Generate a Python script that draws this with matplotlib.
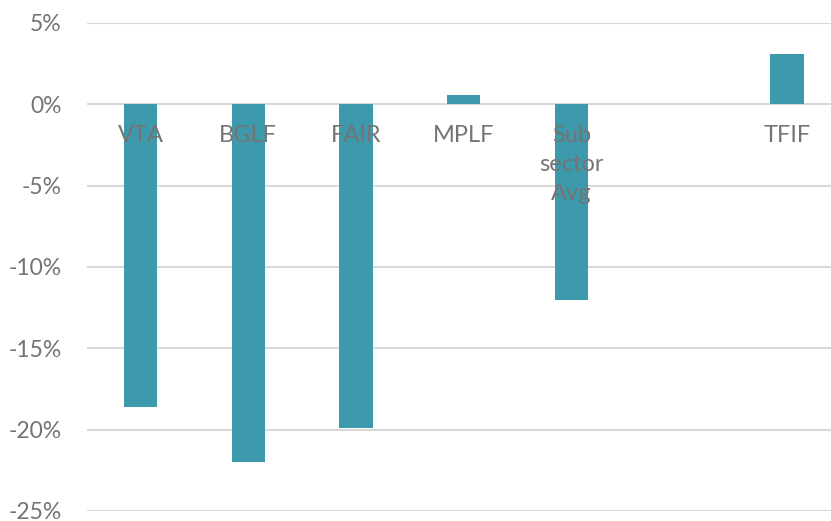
import matplotlib.pyplot as plt
from matplotlib.ticker import FuncFormatter

# fund returns (%) - blank slot between the average and TFIF
funds = ['VTA', 'BGLF', 'FAIR', 'MPLF', 'Sub\nsector\nAvg', '', 'TFIF']
returns = [-18.6, -22.0, -19.9, 0.6, -12.0, 0.0, 3.1]
y_ticks = [5, 0, -5, -10, -15, -20, -25]

bar_color = '#3d9aad'
text_color = '#747474'

plt.rcParams['font.family'] = ['Lato', 'DejaVu Sans']

fig = plt.figure(figsize=(8.31, 5.21), dpi=100)
ax = fig.add_axes([0.1042, 0.0192, 0.9076, 0.9367])

x = list(range(len(funds)))
ax.bar(x, returns, width=0.31, color=bar_color, zorder=3)

ax.set_xlim(-0.5, len(funds) - 0.5)
ax.set_ylim(-25, 5)
ax.set_yticks(y_ticks)
ax.yaxis.set_major_formatter(FuncFormatter(lambda v, p: '{:.0f}%'.format(v)))
ax.tick_params(axis='y', length=0, pad=18, labelsize=16.5, labelcolor=text_color)
ax.set_xticks([])
ax.grid(axis='y', color='#d9d9d9', linewidth=1.5, zorder=0)
for s in ax.spines.values():
    s.set_visible(False)

# category labels sit just under the zero line
for xi, name in zip(x, funds):
    ax.text(xi, -1.3, name, ha='center', va='top', fontsize=17,
            color=text_color, linespacing=1.45, zorder=4)

fig.savefig('out.png', dpi=100)
